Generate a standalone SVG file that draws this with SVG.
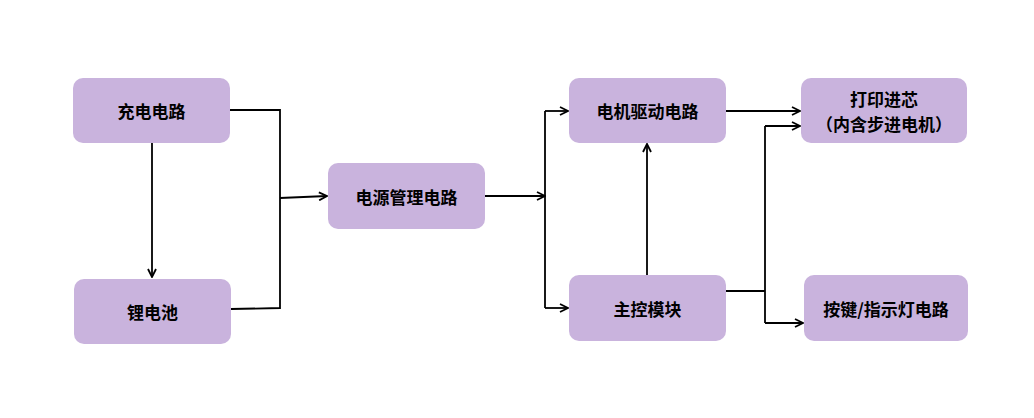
<svg xmlns="http://www.w3.org/2000/svg" width="1034" height="418" viewBox="0 0 1034 418">
<style>
.n{fill:#C9B3DD;}
.t{font-family:"Noto Sans CJK SC","Liberation Sans",sans-serif;font-size:17px;font-weight:bold;fill:#000;text-anchor:middle;dominant-baseline:central;}
.c{fill:none;stroke:#000;stroke-width:1.8;}
</style>
<defs>
<marker id="a" viewBox="0 0 10 10" refX="9" refY="5" markerWidth="10" markerHeight="10" markerUnits="userSpaceOnUse" orient="auto">
<path d="M1,1 L9,5 L1,9" fill="none" stroke="#000" stroke-width="1.8"/>
</marker>
</defs>
<rect width="1034" height="418" fill="#fff"/>
<g id="connectors">
<path class="c" d="M230,110 H280 V308 L231,309"/>
<path class="c" d="M280,198 L327,196" marker-end="url(#a)"/>
<path class="c" d="M152,143 V277" marker-end="url(#a)"/>
<path class="c" d="M485,196 H545" marker-end="url(#a)"/>
<path class="c" d="M545,111 V308"/>
<path class="c" d="M545,111 H568" marker-end="url(#a)"/>
<path class="c" d="M545,308 H568" marker-end="url(#a)"/>
<path class="c" d="M726,111 H800" marker-end="url(#a)"/>
<path class="c" d="M647,275 V144" marker-end="url(#a)"/>
<path class="c" d="M726,291 H765"/>
<path class="c" d="M765,126 V323"/>
<path class="c" d="M765,126 H800" marker-end="url(#a)"/>
<path class="c" d="M765,323 H803" marker-end="url(#a)"/>
</g>
<g id="n1"><rect class="n" x="73" y="78" width="157" height="65" rx="10"/><text class="t" x="151.5" y="110.5">充电电路</text></g>
<g id="n2"><rect class="n" x="74" y="279" width="157" height="65" rx="10"/><text class="t" x="152.5" y="311.5">锂电池</text></g>
<g id="n3"><rect class="n" x="328" y="163" width="157" height="66" rx="10"/><text class="t" x="406.5" y="196">电源管理电路</text></g>
<g id="n4"><rect class="n" x="569" y="78" width="157" height="65" rx="10"/><text class="t" x="647.5" y="110.5">电机驱动电路</text></g>
<g id="n5"><rect class="n" x="801" y="78" width="166" height="65" rx="10"/><text class="t" x="884" y="98">打印进芯</text><text class="t" x="884" y="123.5">（内含步进电机）</text></g>
<g id="n6"><rect class="n" x="569" y="275" width="157" height="66" rx="10"/><text class="t" x="647.5" y="308">主控模块</text></g>
<g id="n7"><rect class="n" x="804" y="275" width="164" height="66" rx="10"/><text class="t" x="886" y="308">按键/指示灯电路</text></g>
</svg>
